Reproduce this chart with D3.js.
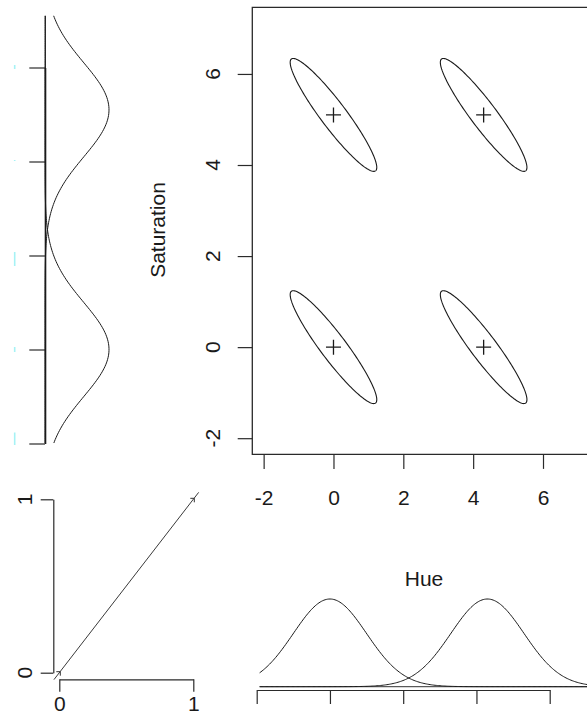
<!DOCTYPE html>
<html><head><meta charset="utf-8">
<script src="https://cdn.jsdelivr.net/npm/d3@7"></script>
<style>
html,body{margin:0;padding:0;background:#fff;overflow:hidden}
svg{display:block;font-family:"Liberation Sans",Arial,sans-serif}
</style></head><body>
<svg id="chart" width="587" height="721"></svg>
<script>
// Component means of the bivariate mixture (Hue x Saturation)
const hueMeans = [0, 4.3];
const satMeans = [0, 5.1];
const compSd = 1;            // marginal standard deviation of every component
const ellipseRadius = 1.24;  // half-extent of each component ellipse along both axes
const ellipseRho = -0.93;    // within-component correlation
const hueRange = [-1.92, 8.2];
const satRange = [-1.99, 7.1];
const hueTicks = [-2, 0, 2, 4, 6];
const satTicks = [-2, 0, 2, 4, 6];
const unitTicks = [0, 1];
const diagLine = [-0.04, 1.04];
const diagMarks = [0, 1];

const svg = d3.select("#chart");
const ink = "#1a1a1a";
const FS = 21;
const plain = d => String(d);   // ASCII hyphen for negatives, no decimals

const pad = r => { const w = r[1] - r[0]; return [r[0] - 0.04 * w, r[1] + 0.04 * w]; };
const dnorm = (v, m, s) => Math.exp(-0.5 * ((v - m) / s) ** 2) / (s * Math.sqrt(2 * Math.PI));
const peak = dnorm(0, 0, compSd);

// ---------- main scatter panel ----------
const hueDom = pad(hueRange), satDom = pad(satRange);
const x = d3.scaleLinear().domain(hueDom).range([252.3, 252.3 + (hueDom[1] - hueDom[0]) * 34.92]);
const y = d3.scaleLinear().domain(satDom).range([454.3, 7.3]);

const main = svg.append("g");
// box (left, top, bottom; right side runs past the edge)
main.append("path")
  .attr("d", `M${x.range()[1]},${y.range()[1]}H${x.range()[0]}V${y.range()[0]}H${x.range()[1]}`)
  .attr("fill", "none").attr("stroke", "#2a2a2a").attr("stroke-width", 1.3);

// y ticks + rotated labels
const yAx = main.append("g").attr("transform", `translate(${x.range()[0]},0)`)
  .call(d3.axisLeft(y).tickValues(satTicks).tickSize(14.6).tickSizeOuter(0).tickFormat(""));
yAx.select(".domain").remove();
yAx.selectAll("line").attr("stroke", "#2a2a2a").attr("stroke-width", 1.2);
main.selectAll("text.ylab").data(satTicks).join("text").attr("class", "ylab")
  .attr("transform", d => `translate(213,${y(d)}) rotate(-90)`)
  .attr("text-anchor", "middle").attr("dy", "0.35em")
  .attr("font-size", FS).attr("fill", ink).text(plain);

// x ticks + labels
const xAx = main.append("g").attr("transform", `translate(0,${y.range()[0]})`)
  .call(d3.axisBottom(x).tickValues(hueTicks).tickSize(14.6).tickSizeOuter(0).tickPadding(21.5).tickFormat(plain));
xAx.select(".domain").remove();
xAx.selectAll("line").attr("stroke", "#2a2a2a").attr("stroke-width", 1.2);
xAx.selectAll("text").attr("font-size", FS).attr("fill", ink)
  .attr("font-family", '"Liberation Sans",Arial,sans-serif');

main.append("text").attr("x", 424).attr("y", 579).attr("dy", "0.35em")
  .attr("text-anchor", "middle").attr("font-size", FS).attr("fill", ink).text("Hue");
main.append("text").attr("transform", "translate(158,230) rotate(-90)").attr("dy", "0.35em")
  .attr("text-anchor", "middle").attr("font-size", FS).attr("fill", ink).text("Saturation");

// component ellipses and centre crosses
const comps = [];
satMeans.forEach(sm => hueMeans.forEach(hm => comps.push({ hm, sm })));
const tt = d3.range(0, 2 * Math.PI + 1e-9, Math.PI / 90);
const s1 = Math.sqrt(1 - ellipseRho * ellipseRho);
const ellLine = d3.line().x(p => x(p[0])).y(p => y(p[1]));
main.selectAll("path.ell").data(comps).join("path").attr("class", "ell")
  .attr("d", c => ellLine(tt.map(t => [
    c.hm + ellipseRadius * Math.cos(t),
    c.sm + ellipseRadius * (ellipseRho * Math.cos(t) + s1 * Math.sin(t))
  ])) + "Z")
  .attr("fill", "none").attr("stroke", ink).attr("stroke-width", 1.1);
main.selectAll("path.cross").data(comps).join("path").attr("class", "cross")
  .attr("d", c => { const cx = x(c.hm), cy = y(c.sm);
    return `M${cx - 7.5},${cy}H${cx + 7.5}M${cx},${cy - 7.5}V${cy + 7.5}`; })
  .attr("stroke", ink).attr("stroke-width", 1.3);

// ---------- left marginal density (Saturation) ----------
const ys = d3.scaleLinear().domain([-2, 6]).range([443.5, 67.5]);
const xs = d3.scaleLinear().domain([0, peak]).range([45, 109]);
const left = svg.append("g");
left.append("line").attr("x1", xs(0) + 0.5).attr("x2", xs(0) + 0.5)
  .attr("y1", ys(satRange[1])).attr("y2", ys(satRange[0]))
  .attr("stroke", "#333").attr("stroke-width", 1);
const lAx = left.append("g").attr("transform", `translate(${xs(0)},0)`)
  .call(d3.axisLeft(ys).tickValues(satTicks).tickSize(15.7).tickSizeOuter(0).tickFormat(""));
lAx.select(".domain").attr("stroke", "#1a1a1a").attr("stroke-width", 1.6);
lAx.selectAll("line").attr("stroke", "#2a2a2a").attr("stroke-width", 1.2);
// faint cyan remnants beside the ticks
const sliver = { "-2": [-11, 1.5], "0": [-2.5, 2.5], "2": [-3.5, 10.5], "4": [-1.5, -0.5], "6": [-2.5, 1.5] };
left.selectAll("line.sl").data(satTicks).join("line").attr("class", "sl")
  .attr("x1", 14.7).attr("x2", 14.7)
  .attr("y1", d => ys(d) + sliver[d][0]).attr("y2", d => ys(d) + sliver[d][1])
  .attr("stroke", "#a6f2f5").attr("stroke-width", 1.6);
const satGrid = d3.range(satRange[0], satRange[1] + 1e-9, (satRange[1] - satRange[0]) / 240);
const lLine = d3.line().x(p => xs(p[1])).y(p => ys(p[0]));
left.selectAll("path.dens").data(satMeans).join("path").attr("class", "dens")
  .attr("d", m => lLine(satGrid.map(v => [v, dnorm(v, m, compSd)])))
  .attr("fill", "none").attr("stroke", ink).attr("stroke-width", 1);

// ---------- bottom marginal density (Hue) ----------
const xb = d3.scaleLinear().domain([-2, 6]).range([256.7, 549.7]);
const yb = d3.scaleLinear().domain([0, peak]).range([686.7, 599]);
const bot = svg.append("g");
bot.append("line").attr("x1", xb(hueRange[0])).attr("x2", xb(hueRange[1]))
  .attr("y1", yb(0)).attr("y2", yb(0)).attr("stroke", "#333").attr("stroke-width", 1);
const bAx = bot.append("g").attr("transform", "translate(0,690)")
  .call(d3.axisBottom(xb).tickValues(hueTicks).tickSize(14).tickSizeOuter(0).tickFormat(""));
bAx.select(".domain").attr("stroke", "#2a2a2a").attr("stroke-width", 1.2);
bAx.selectAll("line").attr("stroke", "#2a2a2a").attr("stroke-width", 1.2);
const hueGrid = d3.range(hueRange[0], hueRange[1] + 1e-9, (hueRange[1] - hueRange[0]) / 300);
const bLine = d3.line().x(p => xb(p[0])).y(p => yb(p[1]));
bot.selectAll("path.dens").data(hueMeans).join("path").attr("class", "dens")
  .attr("d", m => bLine(hueGrid.map(v => [v, dnorm(v, m, compSd)])))
  .attr("fill", "none").attr("stroke", ink).attr("stroke-width", 1);

// ---------- unit square panel ----------
const xu = d3.scaleLinear().domain([0, 1]).range([59.3, 193.3]);
const yu = d3.scaleLinear().domain([0, 1]).range([672.7, 499.3]);
const uni = svg.append("g");
const uyAx = uni.append("g").attr("transform", "translate(53.3,0)")
  .call(d3.axisLeft(yu).tickValues(unitTicks).tickSize(12.6).tickSizeOuter(0).tickFormat(""));
uyAx.select(".domain").attr("stroke", "#2a2a2a").attr("stroke-width", 1.2);
uyAx.selectAll("line").attr("stroke", "#2a2a2a").attr("stroke-width", 1.2);
uni.selectAll("text.uyl").data(unitTicks).join("text").attr("class", "uyl")
  .attr("transform", d => `translate(24.5,${yu(d)}) rotate(-90)`)
  .attr("text-anchor", "middle").attr("dy", "0.35em")
  .attr("font-size", FS).attr("fill", ink).text(plain);
const uxAx = uni.append("g").attr("transform", "translate(0,679.3)")
  .call(d3.axisBottom(xu).tickValues(unitTicks).tickSize(12.4).tickSizeOuter(0).tickPadding(4.5).tickFormat(plain));
uxAx.select(".domain").attr("stroke", "#2a2a2a").attr("stroke-width", 1.2);
uxAx.selectAll("line").attr("stroke", "#2a2a2a").attr("stroke-width", 1.2);
uxAx.selectAll("text").attr("font-size", FS).attr("fill", ink)
  .attr("font-family", '"Liberation Sans",Arial,sans-serif');
uni.append("line")
  .attr("x1", xu(diagLine[0])).attr("y1", yu(diagLine[0]))
  .attr("x2", xu(diagLine[1])).attr("y2", yu(diagLine[1]))
  .attr("stroke", "#3a3a3a").attr("stroke-width", 1);
uni.selectAll("path.dm").data(diagMarks).join("path").attr("class", "dm")
  .attr("d", d => { const cx = xu(d), cy = yu(d);
    return `M${cx - 3},${cy - 1}L${cx + 1},${cy - 1}L${cx + 1},${cy + 3}`; })
  .attr("fill", "none").attr("stroke", "#333").attr("stroke-width", 1);
</script>
</body></html>
